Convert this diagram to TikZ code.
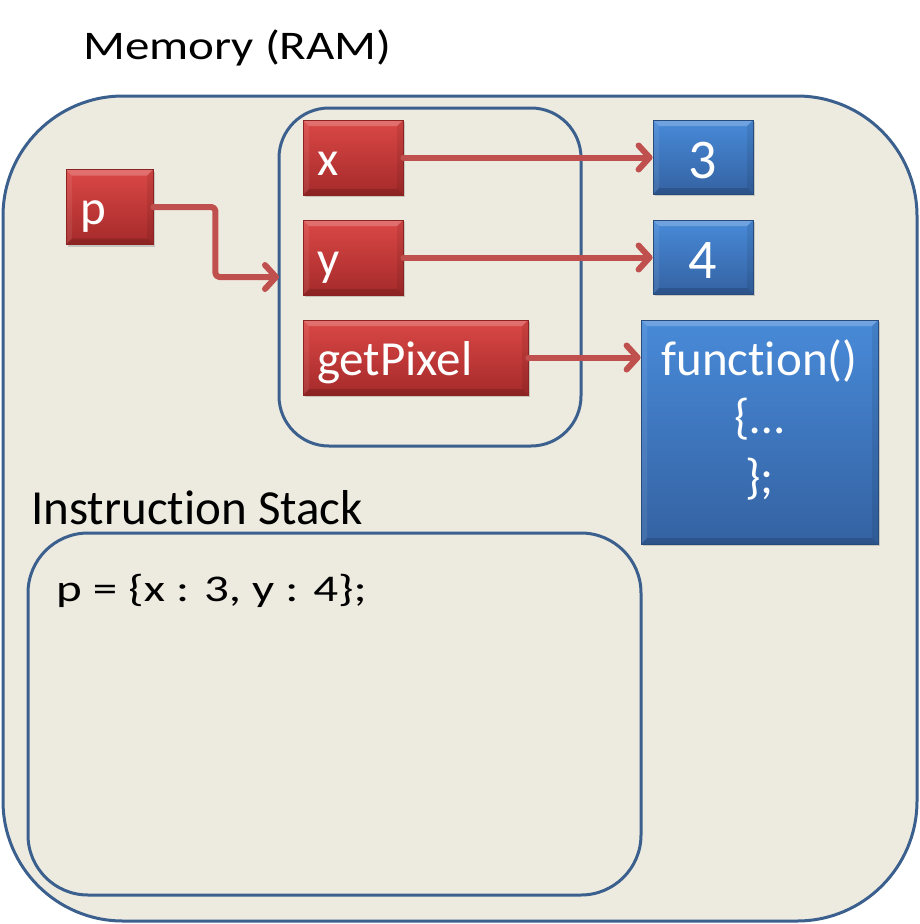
\documentclass[tikz,border=0pt]{standalone}
\usepackage{fontspec}
\setmainfont{Carlito}[Ligatures=NoCommon]
\usetikzlibrary{arrows.meta,shadows}
\definecolor{bgfill}{RGB}{237,235,224}
\definecolor{frameblue}{RGB}{60,96,142}
\definecolor{arrowred}{RGB}{192,80,77}
\definecolor{redtop}{RGB}{218,72,70}
\definecolor{redbot}{RGB}{165,42,42}
\definecolor{redline}{RGB}{140,35,35}
\definecolor{bluetop}{RGB}{72,138,216}
\definecolor{bluebot}{RGB}{52,98,162}
\definecolor{blueline}{RGB}{40,75,125}
\tikzset{
  bigtext/.style={font=\fontsize{49}{59}\selectfont},
  frame/.style={draw=frameblue, line width=3pt},
  bevel/.style={path picture={
    \fill[white, opacity=0.22] (path picture bounding box.north west) -- (path picture bounding box.north east)
      -- ([xshift=-6pt,yshift=-6pt]path picture bounding box.north east) -- ([xshift=6pt,yshift=-6pt]path picture bounding box.north west) -- cycle;
    \fill[black, opacity=0.15] (path picture bounding box.south west) -- (path picture bounding box.south east)
      -- ([xshift=-6pt,yshift=6pt]path picture bounding box.south east) -- ([xshift=6pt,yshift=6pt]path picture bounding box.south west) -- cycle;
    \fill[black, opacity=0.08] (path picture bounding box.north east) -- (path picture bounding box.south east)
      -- ([xshift=-6pt,yshift=6pt]path picture bounding box.south east) -- ([xshift=-6pt,yshift=-6pt]path picture bounding box.north east) -- cycle;
    \fill[white, opacity=0.08] (path picture bounding box.north west) -- (path picture bounding box.south west)
      -- ([xshift=6pt,yshift=6pt]path picture bounding box.south west) -- ([xshift=6pt,yshift=-6pt]path picture bounding box.north west) -- cycle;
  }},
  redbox/.style={bigtext, text=white, top color=redtop, bottom color=redbot,
    draw=redline, line width=0.8pt, inner xsep=14pt, inner ysep=0pt,
    minimum height=75pt, text height=35pt, text depth=0pt, align=left, bevel,
    drop shadow={opacity=0.35, shadow xshift=2pt, shadow yshift=-2pt}},
  bluebox/.style={text=white, top color=bluetop, bottom color=bluebot,
    draw=blueline, line width=0.8pt, inner sep=0pt, bevel,
    drop shadow={opacity=0.35, shadow xshift=2pt, shadow yshift=-2pt}},
  numtext/.style={font=\fontsize{56}{60}\selectfont, text height=42pt, text depth=0pt},
  link/.style={draw=arrowred, line width=6pt, line cap=round, line join=round,
    -{Straight Barb[length=11pt, width=24pt, line cap=round, line join=round]}},
  plain/.style={bigtext, inner sep=0pt, anchor=base west},
}
\begin{document}
\begin{tikzpicture}[x=1pt, y=-1pt]
\useasboundingbox (0,0) rectangle (919,924);
% outer memory box
\draw[frame, fill=bgfill, rounded corners=120pt] (3,96) rectangle (917,921);
\node[plain] (memlabel) at (83,59) {\scalebox{1}[0.83]{Memory (RAM)}};
% object box
\draw[frame, rounded corners=50pt] (279,108) rectangle (581,446);
\coordinate (objwest) at (279,277);
% instruction stack
\draw[frame, rounded corners=60pt] (28,533) rectangle (641,895);
\node[plain] (stacklabel) at (31,524) {Instruction Stack};
\node[plain] (code) at (56,601) {\scalebox{1}[0.77]{p = \{x : 3, y : 4\};}};
% red boxes
\node[redbox, text width=59pt] (p) at (109.5,207) {p};
\node[redbox, text width=72pt] (x) at (353,157.5) {x};
\node[redbox, text width=72pt] (y) at (353,257.5) {y};
\node[redbox, text width=197pt] (gp) at (415.5,357.5) {getPixel};
% blue boxes
\node[bluebox, numtext, minimum width=100pt, minimum height=74pt] (three) at (703,157) {3};
\node[bluebox, numtext, minimum width=100pt, minimum height=74pt] (four) at (703,257) {4};
\node[bluebox, minimum width=237pt, minimum height=224pt] (func) at (759.5,432) {};
\node[bigtext, text=white, anchor=base, inner sep=0pt] (f1) at (759.5,375) {function()};
\node[bigtext, text=white, anchor=base, inner sep=0pt] (f2) at (759.5,433) {\{…};
\node[bigtext, text=white, anchor=base, inner sep=0pt] (f3) at (759.5,493) {\};};
% arrows
\draw[link] (x.east) -- (x.east -| three.west);
\draw[link] (y.east) -- (y.east -| four.west);
\draw[link] (gp.east) -- (gp.east -| func.west);
\draw[link, rounded corners=4pt] (p.east) -- ++(62,0) |- (objwest);
\end{tikzpicture}
\end{document}
